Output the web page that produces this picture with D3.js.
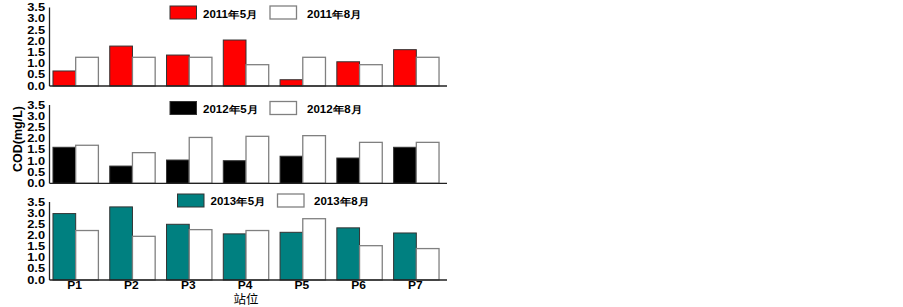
<!DOCTYPE html>
<html><head><meta charset="utf-8">
<script src="https://cdn.jsdelivr.net/npm/d3@7"></script>
<style>body{margin:0;background:#fff}svg{display:block}</style>
</head><body>
<script>
const stations = ["P1","P2","P3","P4","P5","P6","P7"];
const yTicks = [0,0.5,1.0,1.5,2.0,2.5,3.0,3.5];
const tickLabels = ["0.0","0.5","1.0","1.5","2.0","2.5","3.0","3.5"];
const may2011 = [0.67,1.78,1.38,2.05,0.28,1.08,1.62];
const aug2011 = [1.28,1.28,1.28,0.95,1.28,0.95,1.28];
const may2012 = [1.61,0.77,1.04,1.01,1.21,1.13,1.61];
const aug2012 = [1.70,1.37,2.05,2.10,2.13,1.83,1.83];
const may2013 = [2.98,3.28,2.50,2.07,2.14,2.34,2.11];
const aug2013 = [2.22,1.96,2.26,2.22,2.75,1.54,1.41];
const legendMay = ["2011年5月","2012年5月","2013年5月"];
const legendAug = ["2011年8月","2012年8月","2013年8月"];
const yTitle = "COD(mg/L)";
const xTitle = "站位";

const panels = [
  {may: may2011, aug: aug2011, color: "#ff0000", base: 86, top: 7.5, lg: {sx1:170, sx2:270, sy:6, bl:17.5, tx1:203, tx2:307}},
  {may: may2012, aug: aug2012, color: "#000000", base: 183.3, top: 105, lg: {sx1:170, sx2:270, sy:101.5, bl:112.8, tx1:203, tx2:307}},
  {may: may2013, aug: aug2013, color: "#008080", base: 280, top: 202, lg: {sx1:177.5, sx2:277.5, sy:194, bl:205.2, tx1:210.5, tx2:314}}
];

const W = 903, H = 307;
const svg = d3.select("body").append("svg").attr("width", W).attr("height", H);
const font = "'Liberation Sans', Arial, sans-serif";

function stext(g, x, y, str, size, anchor, sx, weight) {
  return g.append("text")
    .attr("transform", `translate(${x},${y}) scale(${sx},1)`)
    .attr("text-anchor", anchor)
    .attr("font-family", font)
    .attr("font-size", size)
    .attr("font-weight", weight || "bold")
    .attr("fill", "#000")
    .text(str);
}

const x = d3.scaleBand().domain(stations).range([49, 443]).paddingInner(0.2).paddingOuter(0.07);
const xs = d3.scaleBand().domain(["may","aug"]).range([0, x.bandwidth()]);
const axisX0 = 49.5, axisX1 = 447;

panels.forEach((p, i) => {
  const y = d3.scaleLinear().domain([0, 3.5]).range([p.base, p.top]);
  const g = svg.append("g");
  stations.forEach((s, j) => {
    g.append("rect")
      .attr("x", x(s) + xs("may")).attr("y", y(p.may[j]))
      .attr("width", xs.bandwidth()).attr("height", y(0) - y(p.may[j]))
      .attr("fill", p.color).attr("stroke", "#333").attr("stroke-width", 1);
    g.append("rect")
      .attr("x", x(s) + xs("aug")).attr("y", y(p.aug[j]))
      .attr("width", xs.bandwidth()).attr("height", y(0) - y(p.aug[j]))
      .attr("fill", "#fff").attr("stroke", "#808080").attr("stroke-width", 1.3);
  });
  g.append("line").attr("x1", axisX0).attr("x2", axisX0).attr("y1", y(3.5)).attr("y2", y(0))
    .attr("stroke", "#222").attr("stroke-width", 1.3);
  g.append("line").attr("x1", axisX0).attr("x2", axisX1).attr("y1", y(0)).attr("y2", y(0))
    .attr("stroke", "#222").attr("stroke-width", 1.3);
  yTicks.forEach((t, k) => {
    stext(g, 45, y(t) + 3.6, tickLabels[k], 10, "end", 1.28);
  });
  const L = p.lg;
  g.append("rect").attr("x", L.sx1).attr("y", L.sy).attr("width", 26.5).attr("height", 13)
    .attr("fill", p.color).attr("stroke", "#333").attr("stroke-width", 1);
  stext(g, L.tx1, L.bl, legendMay[i], 10, "start", 1.15);
  g.append("rect").attr("x", L.sx2).attr("y", L.sy).attr("width", 26.5).attr("height", 13)
    .attr("fill", "#fff").attr("stroke", "#808080").attr("stroke-width", 1.3);
  stext(g, L.tx2, L.bl, legendAug[i], 10, "start", 1.15);
  if (i === 2) {
    stations.forEach(s => {
      stext(g, x(s) + x.bandwidth() / 2 - 1, 289, s, 10, "middle", 1.2);
    });
  }
});

svg.append("text")
  .attr("transform", "translate(21.5,139) rotate(-90)")
  .attr("text-anchor", "middle")
  .attr("font-family", font).attr("font-size", 12.5).attr("font-weight", "bold")
  .text(yTitle);
svg.append("text")
  .attr("x", 246).attr("y", 304)
  .attr("text-anchor", "middle")
  .attr("font-family", "'Noto Sans CJK SC', sans-serif").attr("font-size", 12.5)
  .text(xTitle);
</script>
</body></html>
